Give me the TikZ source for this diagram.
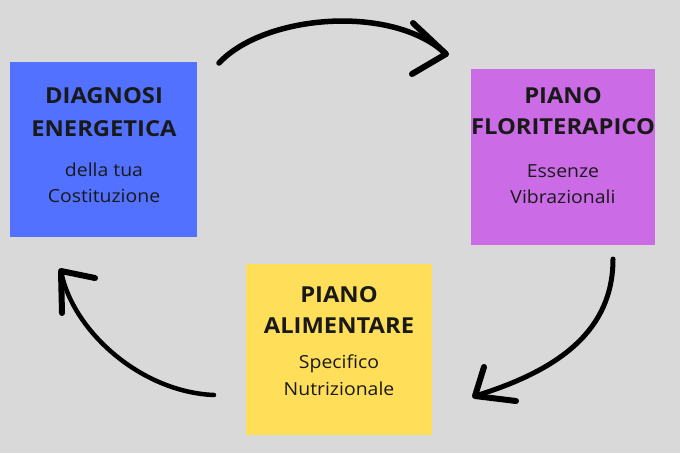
\documentclass[tikz,border=0pt]{standalone}
\usepackage{fontspec}
\setmainfont{Open Sans}[FakeStretch=1.08]
\begin{document}
\begin{tikzpicture}[x=1pt,y=-1pt,
  ttl/.style={anchor=base,font=\fontsize{22}{26}\selectfont\bfseries,text=black!90},
  sub/.style={anchor=base,font=\fontsize{18}{22}\selectfont,text=black!90},
  stroke/.style={line width=5pt,line cap=round,line join=round,black},
  barb/.style={line width=6pt,line cap=round,line join=round,black}]
\definecolor{bg}{HTML}{D9D9D9}
\definecolor{cblue}{HTML}{5271FF}
\definecolor{cpurple}{HTML}{CB6CE6}
\definecolor{cyellow}{HTML}{FFDE59}
\fill[bg] (0,0) rectangle (680,453);
\useasboundingbox (0,0) rectangle (680,453);
% boxes
\node[fill=cblue,minimum width=187pt,minimum height=175pt,inner sep=0pt] (diag) at (103.5,149.5) {};
\node[fill=cpurple,minimum width=184pt,minimum height=176pt,inner sep=0pt] (flor) at (563,157) {};
\node[fill=cyellow,minimum width=186pt,minimum height=171pt,inner sep=0pt] (alim) at (339,349.5) {};
% texts
\node[ttl] (d1) at (104,103) {DIAGNOSI};
\node[ttl] (d2) at (104,136) {ENERGETICA};
\node[sub] (d3) at (104,176) {della tua};
\node[sub] (d4) at (104,202) {Costituzione};
\node[ttl] (f1) at (563,103) {PIANO};
\node[ttl] (f2) at (563,134) {FLORITERAPICO};
\node[sub] (f3) at (563,177) {Essenze};
\node[sub] (f4) at (563,203) {Vibrazionali};
\node[ttl] (a1) at (339,302) {PIANO};
\node[ttl] (a2) at (339,333) {ALIMENTARE};
\node[sub] (a3) at (339,368) {Specifico};
\node[sub] (a4) at (339,395) {Nutrizionale};
% arrow end points
\coordinate (s1) at (219,63);
\coordinate (t1) at (446,54);
\coordinate (t1a) at (413,23);
\coordinate (t1b) at (412,74);
\coordinate (s2) at (613,259);
\coordinate (t2) at (475,396);
\coordinate (t2a) at (484,367);
\coordinate (t2b) at (516,401);
\coordinate (s3) at (214,395);
\coordinate (t3) at (61,271);
\coordinate (t3a) at (62,313);
\coordinate (t3b) at (95,278);
% arrows
\draw[stroke,line width=5.5pt] (s1) .. controls (265,14) and (393,4) .. (t1);
\draw[barb] (t1a) -- (t1) -- (t1b);
\draw[stroke,line width=5pt] (s2) .. controls (613,330) and (560,370) .. (t2);
\draw[barb] (t2a) -- (t2) -- (t2b);
\draw[stroke,line width=4.5pt] (s3) .. controls (140,392) and (72,330) .. (t3);
\draw[barb] (t3a) -- (t3) -- (t3b);
\end{tikzpicture}
\end{document}
